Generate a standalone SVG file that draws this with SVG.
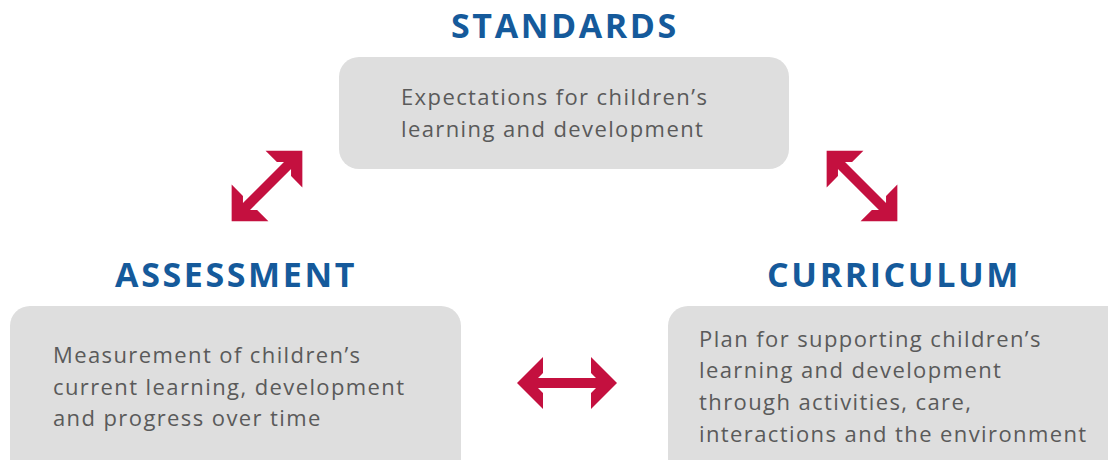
<svg xmlns="http://www.w3.org/2000/svg" width="1108" height="460" viewBox="0 0 1108 460">
  <style>
    .box { fill: #dedede; }
    .title { font-family: "Open Sans", "Liberation Sans", sans-serif; font-weight: 700; font-size: 34px; letter-spacing: 2.6px; fill: #155a9b; text-anchor: middle; }
    .body { font-family: "Open Sans", "Liberation Sans", sans-serif; font-size: 22px; letter-spacing: 1.4px; fill: #5a5a5a; }
    .arrow { fill: #c4103f; }
  </style>
  <defs>
    <!-- double-headed block arrow, tips at x=0 and x=100, centred on y=0 -->
    <polygon id="dbl" points="0,0 26,-26 26,-10 21,-5 79,-5 74,-10 74,-26 100,0 74,26 74,10 79,5 21,5 26,10 26,26"/>
  </defs>

  <g id="standards">
    <text class="title" x="565" y="38">STANDARDS</text>
    <rect class="box" x="339" y="57" width="450" height="112" rx="20"/>
    <text class="body" x="401" y="105">Expectations for children’s</text>
    <text class="body" x="401" y="137">learning and development</text>
  </g>

  <g id="assessment">
    <text class="title" x="236" y="287">ASSESSMENT</text>
    <rect class="box" x="10" y="306" width="451" height="180" rx="20"/>
    <text class="body" x="53" y="363">Measurement of children’s</text>
    <text class="body" x="53" y="395">current learning, development</text>
    <text class="body" x="53" y="426">and progress over time</text>
  </g>

  <g id="curriculum">
    <text class="title" x="894" y="287">CURRICULUM</text>
    <rect class="box" x="668" y="306" width="470" height="180" rx="20"/>
    <text class="body" x="699" y="347">Plan for supporting children’s</text>
    <text class="body" x="699" y="378">learning and development</text>
    <text class="body" x="699" y="410">through activities, care,</text>
    <text class="body" x="699" y="442">interactions and the environment</text>
  </g>

  <g id="connectors" class="arrow">
    <use href="#dbl" transform="translate(267,186) rotate(-45) translate(-50,0)"/>
    <use href="#dbl" transform="translate(862,186) rotate(45) translate(-50,0)"/>
    <use href="#dbl" transform="translate(517,383)"/>
  </g>
</svg>
